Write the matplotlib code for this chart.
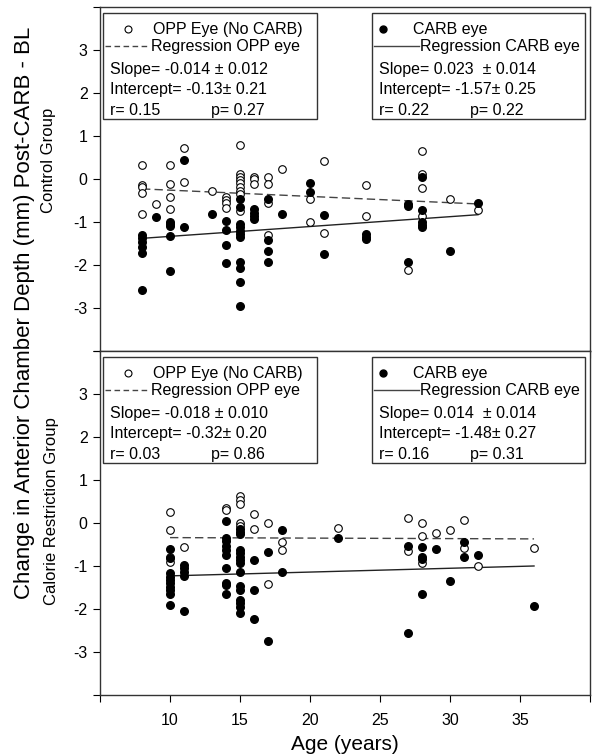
import matplotlib
matplotlib.use("Agg")
import matplotlib.pyplot as plt
from matplotlib.patches import Rectangle
from matplotlib.lines import Line2D

plt.rcParams['font.family'] = ['Liberation Sans', 'DejaVu Sans']

# ---- Control group (top panel) ----
ctrl_opp_age = [8, 8, 8, 8, 8, 9, 10, 10, 10, 10, 11, 11, 13, 14, 14, 14, 14,
                15, 15, 15, 15, 15, 15, 15, 15, 15, 16, 16, 16, 17, 17, 17, 17,
                18, 20, 20, 21, 21, 24, 24, 27, 28, 28, 28, 28, 30, 32]
ctrl_opp_val = [0.33, -0.13, -0.19, -0.33, -0.81, -0.58, 0.33, -0.11, -0.42, -0.69,
                0.71, -0.06, -0.29, -0.41, -0.48, -0.56, -0.68,
                0.78, 0.12, 0.05, -0.02, -0.09, -0.19, -0.27, -0.34, -0.74,
                0.04, 0.0, -0.12, 0.04, -0.12, -0.56, -1.30,
                0.24, -0.46, -1.01, 0.42, -1.25, -0.13, -0.86, -2.12,
                0.66, 0.12, -0.20, -0.86, -0.47, -0.72]

ctrl_carb_age = [8, 8, 8, 8, 8, 8, 9, 10, 10, 10, 10, 10, 11, 11, 13, 14, 14, 14, 14,
                 15, 15, 15, 15, 15, 15, 15, 15, 15, 15, 15, 16, 16, 16, 16,
                 17, 17, 17, 17, 18, 20, 20, 21, 21, 24, 24, 24, 27, 27, 27,
                 28, 28, 28, 28, 28, 30, 32]
ctrl_carb_val = [-1.30, -1.38, -1.46, -1.57, -1.71, -2.57, -0.89,
                 -0.99, -1.04, -1.09, -1.32, -2.14, 0.45, -1.11, -0.82,
                 -0.97, -1.18, -1.53, -1.96,
                 -0.46, -0.65, -1.04, -1.12, -1.20, -1.28, -1.36, -1.92, -2.08, -2.39, -2.96,
                 -0.70, -0.79, -0.87, -0.93, -0.46, -1.43, -1.67, -1.92, -0.81,
                 -0.09, -0.30, -0.83, -1.75, -1.28, -1.34, -1.39, -0.58, -0.62, -1.92,
                 0.04, -0.72, -0.99, -1.07, -1.12, -1.68, -0.55]

ctrl_opp_fit_x = [8, 32]
ctrl_opp_fit_y = [-0.23, -0.58]
ctrl_carb_fit_x = [8, 32]
ctrl_carb_fit_y = [-1.38, -0.83]

# ---- Calorie restriction group (bottom panel) ----
cr_opp_age = [10, 10, 10, 10, 11, 14, 14, 15, 15, 15, 15, 15, 16, 16, 17, 17,
              18, 18, 22, 27, 27, 28, 28, 28, 29, 30, 31, 31, 32, 36]
cr_opp_val = [0.25, -0.16, -0.78, -0.90, -0.55, 0.36, 0.31, 0.62, 0.54, 0.44, 0.0, -0.06,
              0.22, -0.14, 0.0, -1.42, -0.45, -0.62, -0.12, 0.12, -0.65,
              0.0, -0.31, -0.93, -0.23, -0.16, 0.08, -0.58, -0.99, -0.58]

cr_carb_age = [10] * 10 + [11] * 5 + [14] * 10 + [15] * 15 + [16] * 3 + [17] * 2 + \
              [18] * 2 + [22] + [27] * 2 + [28] * 4 + [29] + [30] + [31] * 2 + [32] + [36]
cr_carb_val = [-0.61, -0.82, -1.17, -1.25, -1.32, -1.40, -1.48, -1.56, -1.64, -1.91,
               -0.97, -1.05, -1.13, -1.23, -2.04,
               0.04, -0.35, -0.43, -0.53, -0.62, -0.74, -1.05, -1.39, -1.44, -1.65,
               -0.14, -0.20, -0.26, -0.62, -0.70, -0.78, -0.86, -0.93, -1.15, -1.47,
               -1.56, -1.78, -1.85, -1.95, -2.10,
               -0.87, -1.56, -2.24, -0.68, -2.75, -0.16, -1.15, -0.35,
               -0.53, -2.55, -0.57, -0.80, -0.84, -1.66, -0.61, -1.36, -0.45, -0.80,
               -0.74, -1.93]

cr_opp_fit_x = [10, 36]
cr_opp_fit_y = [-0.34, -0.37]
cr_carb_fit_x = [10, 36]
cr_carb_fit_y = [-1.23, -1.00]

# legend box text
ctrl_opp_stats = ["Slope= -0.014 \u00b1 0.012", "Intercept= -0.13\u00b1 0.21", "r= 0.15", "p= 0.27"]
ctrl_carb_stats = ["Slope= 0.023  \u00b1 0.014", "Intercept= -1.57\u00b1 0.25", "r= 0.22", "p= 0.22"]
cr_opp_stats = ["Slope= -0.018 \u00b1 0.010", "Intercept= -0.32\u00b1 0.20", "r= 0.03", "p= 0.86"]
cr_carb_stats = ["Slope= 0.014  \u00b1 0.014", "Intercept= -1.48\u00b1 0.27", "r= 0.16", "p= 0.31"]

fig = plt.figure(figsize=(5.94, 7.55), dpi=100)
ax_top = fig.add_axes([0.1684, 0.5351, 0.8249, 0.4556])
ax_bot = fig.add_axes([0.1684, 0.0795, 0.8249, 0.4556], sharex=ax_top)

LEG_FS = 11.5
rows = [0.935, 0.886, 0.818, 0.759, 0.700]


def legend_box(ax, x0, x1, sym, label1, label2, ls, stats, px):
    ax.add_patch(Rectangle((x0, 0.674), x1 - x0, 0.309, transform=ax.transAxes,
                           fill=False, ec='#333333', lw=1.0, zorder=5, clip_on=False))
    if sym == 'open':
        ax.plot([x0 + 0.051], [rows[0]], 'o', ms=5.0, mfc='white', mec='black',
                mew=0.8, transform=ax.transAxes, zorder=6)
    else:
        ax.plot([x0 + 0.022], [rows[0]], 'o', ms=5.0, mfc='black', mec='black',
                transform=ax.transAxes, zorder=6)
    ax.text(x0 + (0.102 if sym == 'open' else 0.083), rows[0], label1, transform=ax.transAxes,
            fontsize=LEG_FS, va='center', zorder=6)
    ax.add_line(Line2D([x0 + 0.004, x0 + 0.096], [rows[1], rows[1]], transform=ax.transAxes,
                       color='#444444', lw=1.0, ls=ls, zorder=6))
    ax.text(x0 + 0.098, rows[1], label2, transform=ax.transAxes,
            fontsize=LEG_FS, va='center', zorder=6)
    ax.text(x0 + 0.015, rows[2], stats[0], transform=ax.transAxes, fontsize=LEG_FS, va='center', zorder=6)
    ax.text(x0 + 0.015, rows[3], stats[1], transform=ax.transAxes, fontsize=LEG_FS, va='center', zorder=6)
    ax.text(x0 + 0.015, rows[4], stats[2], transform=ax.transAxes, fontsize=LEG_FS, va='center', zorder=6)
    ax.text(x0 + px, rows[4], stats[3], transform=ax.transAxes, fontsize=LEG_FS, va='center', zorder=6)


panels = [
    (ax_top, ctrl_opp_age, ctrl_opp_val, ctrl_carb_age, ctrl_carb_val,
     ctrl_opp_fit_x, ctrl_opp_fit_y, ctrl_carb_fit_x, ctrl_carb_fit_y,
     ctrl_opp_stats, ctrl_carb_stats),
    (ax_bot, cr_opp_age, cr_opp_val, cr_carb_age, cr_carb_val,
     cr_opp_fit_x, cr_opp_fit_y, cr_carb_fit_x, cr_carb_fit_y,
     cr_opp_stats, cr_carb_stats),
]

for (ax, oa, ov, ca, cv, ofx, ofy, cfx, cfy, ost, cst) in panels:
    ax.plot(ofx, ofy, color='#444444', lw=1.0, ls=(0, (6, 3)), zorder=2)
    ax.plot(cfx, cfy, color='#222222', lw=1.0, zorder=2)
    ax.scatter(oa, ov, s=30, facecolors='white', edgecolors='black', linewidths=0.8, zorder=3)
    ax.scatter(ca, cv, s=30, color='black', zorder=4)
    ax.set_xlim(5, 40)
    ax.set_ylim(-4, 4)
    ax.set_yticks(range(-4, 5))
    ax.set_yticklabels(['', '-3', '-2', '-1', '0', '1', '2', '3', ''])
    ax.set_xticks(range(5, 41, 5))
    ax.tick_params(direction='out', length=5, width=0.8, labelsize=11.5,
                   top=False, right=False, pad=4)
    for sp in ax.spines.values():
        sp.set_color('#333333')
        sp.set_linewidth(1.0)
    legend_box(ax, 0.006, 0.443, 'open', 'OPP Eye (No CARB)', 'Regression OPP eye',
               (0, (4, 2.5)), ost, 0.220)
    legend_box(ax, 0.555, 0.990, 'filled', 'CARB eye', 'Regression CARB eye',
               '-', cst, 0.200)

ax_top.tick_params(labelbottom=False)
ax_bot.tick_params(axis='x', pad=8)
ax_bot.set_xticklabels(['', '10', '15', '20', '25', '30', '35', ''])
ax_bot.set_xlabel('Age (years)', fontsize=15, labelpad=5)

fig.text(0.081, 1 - 160 / 755, 'Control Group', rotation=90, fontsize=12,
         ha='center', va='center')
fig.text(0.087, 1 - 511 / 755, 'Calorie Restriction Group', rotation=90, fontsize=12,
         ha='center', va='center')
fig.text(0.042, 1 - 313 / 755, 'Change in Anterior Chamber Depth (mm) Post-CARB - BL',
         rotation=90, fontsize=16, ha='center', va='center')

fig.savefig('out.png', dpi=100)
